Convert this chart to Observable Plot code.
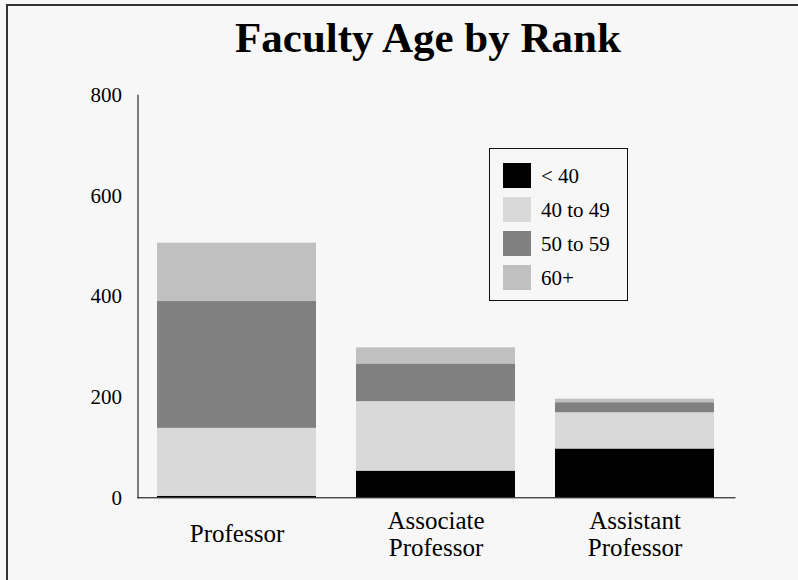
<!DOCTYPE html>
<html>
<head>
<meta charset="utf-8">
<script src="https://cdn.jsdelivr.net/npm/d3@7"></script>
<script src="https://cdn.jsdelivr.net/npm/@observablehq/plot@0.6"></script>
<style>
  html, body { margin: 0; padding: 0; background: #f7f7f7; }
  body { width: 798px; height: 580px; overflow: hidden; position: relative;
         font-family: "Liberation Serif", "Times New Roman", serif; }
  #frameTop { position: absolute; left: 6px; top: 4px; width: 792px; height: 2px; background: #333; }
  #frameLeft { position: absolute; left: 6px; top: 4px; width: 2px; height: 576px; background: #333; }
  #chart { position: absolute; left: 0; top: 0; }
  #title { position: absolute; left: 0; top: 16px; width: 856px; text-align: center;
           font-size: 43px; line-height: 43px; font-weight: bold; color: #000; }
  #legendBox { position: absolute; left: 489px; top: 148px; width: 139px; height: 153px;
               border: 1px solid #111; box-sizing: border-box; }
  .sw { position: absolute; width: 28px; height: 25px; left: 503px; }
  .lt { position: absolute; left: 541px; font-size: 21px; line-height: 25px; color: #000; white-space: nowrap; }
</style>
</head>
<body>
<div id="frameTop"></div>
<div id="frameLeft"></div>
<div id="chart"></div>
<div id="title">Faculty Age by Rank</div>
<div id="legendBox"></div>
<script>
// ---- data ----
const ranks = ["Professor", "Associate Professor", "Assistant Professor"];
const rankLabels = ["Professor", "Associate\nProfessor", "Assistant\nProfessor"];
const ageGroups = ["< 40", "40 to 49", "50 to 59", "60+"];
const under40   = [3, 53, 97];
const age40to49 = [135, 138, 72];
const age50to59 = [252, 75, 20];
const age60plus = [116, 32, 7];
const yTicks = [0, 200, 400, 600, 800];
const groupColors = ["#000000", "#d9d9d9", "#808080", "#c0c0c0"];

const seriesByGroup = [under40, age40to49, age50to59, age60plus];
const rows = [];
ageGroups.forEach((g, gi) => {
  ranks.forEach((r, ri) => rows.push({rank: r, group: g, count: seriesByGroup[gi][ri]}));
});
const labelRows = ranks.map((r, i) => ({rank: r, label: rankLabels[i]}));

const plot = Plot.plot({
  width: 798,
  height: 580,
  marginLeft: 137.5,
  marginRight: 63.5,
  marginTop: 94.7,
  marginBottom: 82.7,
  style: {background: "transparent", fontFamily: "'Liberation Serif', 'Times New Roman', serif", color: "#000"},
  x: {domain: ranks, paddingInner: 0.2, paddingOuter: 0.1, axis: null},
  y: {domain: [0, 800], ticks: yTicks, label: null},
  color: {domain: ageGroups, range: groupColors},
  marks: [
    Plot.barY(rows, {x: "rank", y: "count", fill: "group", order: ageGroups}),
    Plot.axisY({ticks: yTicks, tickSize: 0, tickPadding: 16, fontSize: 21, label: null, tickFormat: d => String(d)}),
    Plot.frame({anchor: "left", stroke: "#000"}),
    Plot.frame({anchor: "bottom", stroke: "#000"}),
    Plot.text(labelRows, {x: "rank", text: "label", frameAnchor: "bottom", dy: 36,
      lineAnchor: "middle", fontSize: 25, lineHeight: 1.08, fill: "#000"})
  ]
});
document.getElementById("chart").appendChild(plot);

// legend, built from the plot's color scale
const colorScale = plot.scale("color");
const swTops = [163, 197, 231, 265];
ageGroups.forEach((g, i) => {
  const sw = document.createElement("div");
  sw.className = "sw";
  sw.style.top = swTops[i] + "px";
  sw.style.background = colorScale.apply(g);
  document.body.appendChild(sw);
  const lt = document.createElement("div");
  lt.className = "lt";
  lt.style.top = (swTops[i] + 1) + "px";
  lt.textContent = g;
  document.body.appendChild(lt);
});
</script>
</body>
</html>
